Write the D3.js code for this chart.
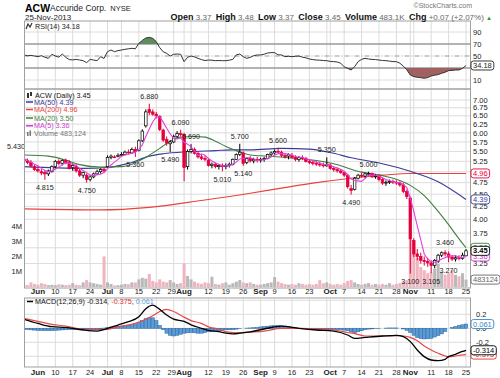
<!DOCTYPE html>
<html><head><meta charset="utf-8">
<script src="https://cdn.jsdelivr.net/npm/d3@7"></script>
<style>body{margin:0;background:#fff}svg{display:block}text{font-family:Arial,"Liberation Sans",sans-serif}</style>
</head><body><svg width="500" height="378"></svg>
<script>
// ---------- DATA ----------
const holidays = ["2013-07-04","2013-09-02"];
const open = [5.30,5.26,5.22,5.12,5.05,5.00,4.98,4.95,5.00,5.12, 5.25,5.20,5.27,5.22,5.10,5.12,5.02,4.92,4.92,4.82,
 4.88,4.95,5.00,5.05,5.12,5.35,5.36,5.37,5.40,5.42, 5.48,5.46,5.55,5.52,5.78,6.20,6.70,6.62,6.55,6.48,
 6.08,5.82,5.70,5.75,5.90,5.98,5.95,5.12,5.50,5.55, 5.45,5.36,5.32,5.28,5.15,5.18,5.12,5.15,5.12,5.15,
 5.18,5.30,5.42,5.46,5.22,5.32,5.26,5.30,5.28,5.30, 5.32,5.42,5.46,5.50,5.48,5.40,5.38,5.40,5.35,5.30,
 5.34,5.32,5.25,5.22,5.20,5.18,5.16,5.14,5.16,5.08, 5.05,5.02,4.98,4.92,4.62,4.60,4.85,4.92,4.90,4.95,
 4.96,4.88,4.90,4.82,4.74,4.76,4.78,4.76,4.74,4.70, 4.56,4.42,3.62,3.40,3.36,3.30,3.28,3.26,3.22,3.28,
 3.38,3.42,3.40,3.35,3.32,3.34,3.33,3.37];
const high = [5.43,5.32,5.28,5.18,5.12,5.06,5.04,5.05,5.15,5.28, 5.30,5.30,5.32,5.28,5.20,5.18,5.08,5.00,4.96,4.92,
 4.98,5.05,5.08,5.10,5.40,5.42,5.40,5.45,5.48,5.52, 5.55,5.60,5.62,5.82,6.10,6.70,6.88,6.70,6.62,6.52,
 6.12,5.90,5.80,5.95,6.05,6.09,6.00,5.55,5.69,5.60, 5.50,5.42,5.38,5.32,5.22,5.22,5.18,5.20,5.20,5.22,
 5.32,5.45,5.70,5.50,5.35,5.38,5.34,5.36,5.34,5.36, 5.44,5.50,5.55,5.60,5.52,5.46,5.45,5.46,5.40,5.38,
 5.40,5.36,5.30,5.28,5.25,5.24,5.22,5.35,5.20,5.12, 5.10,5.06,5.00,4.95,4.70,4.88,4.95,4.98,4.98,5.00,
 4.98,4.95,4.94,4.86,4.80,4.82,4.82,4.80,4.78,4.74, 4.60,4.45,3.66,3.48,3.42,3.36,3.34,3.30,3.32,3.40,
 3.44,3.46,3.44,3.38,3.38,3.38,3.42,3.48];
const low = [5.22,5.18,5.10,5.02,4.98,4.92,4.815,4.90,4.98,5.08, 5.15,5.15,5.18,5.05,5.02,4.98,4.88,4.85,4.75,4.78,
 4.85,4.92,4.96,4.98,5.10,5.30,5.33,5.35,5.38,5.40, 5.44,5.44,5.36,5.50,5.75,6.15,6.52,6.50,6.42,6.05,
 5.75,5.65,5.49,5.72,5.85,5.90,4.78,5.05,5.45,5.42, 5.32,5.28,5.25,5.12,5.08,5.08,5.05,5.01,5.06,5.10,
 5.15,5.28,5.38,5.14,5.18,5.22,5.20,5.22,5.22,5.24, 5.30,5.38,5.42,5.45,5.35,5.32,5.30,5.32,5.25,5.24,
 5.28,5.22,5.18,5.15,5.14,5.12,5.10,5.12,5.05,5.00, 4.98,4.95,4.88,4.62,4.49,4.58,4.82,4.86,4.85,4.90,
 4.86,4.84,4.78,4.70,4.68,4.72,4.72,4.70,4.66,4.52, 4.40,3.10,3.35,3.30,3.25,3.22,3.20,3.105,3.18,3.26,
 3.35,3.36,3.27,3.29,3.28,3.30,3.31,3.37];
const close = [5.26,5.22,5.14,5.05,5.02,4.97,4.95,5.02,5.12,5.25, 5.20,5.27,5.22,5.08,5.15,5.02,4.92,4.98,4.82,4.88,
 4.95,5.00,5.05,5.02,5.35,5.38,5.36,5.40,5.42,5.48, 5.46,5.55,5.50,5.78,6.05,6.62,6.60,6.55,6.50,6.10,
 5.80,5.72,5.75,5.90,5.98,5.95,5.10,5.50,5.55,5.45, 5.36,5.32,5.30,5.15,5.18,5.12,5.15,5.12,5.15,5.18,
 5.30,5.42,5.48,5.20,5.32,5.26,5.30,5.28,5.30,5.32, 5.42,5.46,5.50,5.48,5.40,5.36,5.42,5.35,5.30,5.34,
 5.32,5.25,5.22,5.20,5.18,5.16,5.14,5.18,5.08,5.05, 5.02,4.98,4.92,4.66,4.58,4.85,4.92,4.90,4.95,4.96,
 4.88,4.90,4.82,4.74,4.76,4.78,4.76,4.74,4.70,4.56, 4.45,3.65,3.40,3.36,3.30,3.28,3.26,3.22,3.30,3.38,
 3.42,3.40,3.35,3.32,3.34,3.33,3.38,3.45];
const volumeK = [150,120,300,200,150,250,200,120,150,120, 180,150,120,150,250,150,120,300,450,300,
 250,200,150,2000,300,200,100,120,150,200, 180,300,300,500,600,550,850,400,300,500,
 350,300,450,300,200,250,1550,720,500,350, 250,200,300,250,670,200,150,250,300,150,
 250,350,450,300,250,300,200,150,150,200, 250,300,650,350,250,200,150,200,150,250,
 200,150,200,150,200,450,250,300,200,150, 200,150,250,400,450,300,200,150,200,250,
 150,200,150,200,150,250,150,200,250,350, 450,3200,2400,1900,1300,1100,900,950,1200,1500,
 1000,800,900,1100,800,700,900,483.124];
const ma5 = [5.32,5.28,5.23,5.18,5.14,5.08,5.03,5.00,5.02,5.06, 5.11,5.17,5.21,5.20,5.18,5.15,5.08,5.03,4.98,4.92,
 4.91,4.93,4.94,4.98,5.07,5.16,5.23,5.30,5.38,5.41, 5.42,5.46,5.48,5.55,5.67,5.90,6.11,6.32,6.46,6.47,
 6.31,6.13,5.97,5.85,5.83,5.86,5.74,5.69,5.62,5.51, 5.39,5.44,5.40,5.32,5.26,5.21,5.18,5.14,5.14,5.14,
 5.18,5.23,5.31,5.32,5.34,5.34,5.31,5.27,5.29,5.29, 5.32,5.36,5.40,5.44,5.45,5.44,5.43,5.40,5.37,5.35,
 5.35,5.31,5.29,5.27,5.23,5.20,5.18,5.17,5.15,5.12, 5.09,5.06,5.01,4.93,4.83,4.80,4.79,4.78,4.84,4.92,
 4.92,4.92,4.90,4.86,4.82,4.80,4.77,4.76,4.75,4.71, 4.64,4.42,4.15,3.88,3.63,3.40,3.32,3.28,3.27,3.29,
 3.32,3.34,3.37,3.37,3.37,3.35,3.34,3.36];
const ma20Idx = [0,7,12,16,22,28,31,35,39,42,45,49,52,55,58,61,65,70,76,84,89,97,103,108,111,115,119,122,125,127];
const ma20Val = [5.41,5.38,5.28,5.17,5.11,5.12,5.18,5.35,5.58,5.77,5.88,5.90,5.88,5.77,5.63,5.52,5.41,5.38,5.34,5.27,5.19,4.99,4.91,4.80,4.69,4.47,4.15,3.90,3.65,3.50];
const ma50Idx = [0,17,24,30,36,40,47,55,60,65,74,82,88,94,103,111,119,127];
const ma50Val = [5.12,5.08,5.10,5.20,5.38,5.44,5.49,5.52,5.54,5.54,5.58,5.56,5.47,5.34,5.19,5.01,4.77,4.39];
const ma200Idx = [0,22,36,51,65,74,84,94,103,111,119,127];
const ma200Val = [4.20,4.18,4.23,4.37,4.52,4.63,4.75,4.85,4.92,4.96,4.96,4.96];
const rsi = [51.7,50.5,51,50,49,50.5,48,46.1,52.8,50, 48,53.3,47.8,44,43.5,44.4,43.3,42.2,38.9,44.4,
 43.3,42.2,48.9,46,57.2,60,57.2,59,60,61.1, 62,62.8,62,71.1,76,80,81.1,79.4,74,64,
 57,54.4,50,52.8,53.3,52.8,40.6,47.8,50,48.5, 46.1,44,42.5,43.3,43,42.2,42.5,42.2,42.2,43,
 44.4,52,53.3,48.9,46.1,47.8,50.5,51.7,51.7,53, 55,55.6,55.6,52,51.7,48.9,49.5,48.9,49.5,50,
 48,47,45,44,43.3,43,42.5,42.2,41,40.6, 40,38,32,29.4,26.7,32.2,40.6,44.4,46.1,45,
 44.4,44,43.3,42.5,42.2,41.5,40.6,40.6,38,33, 27,18.3,15.6,14.5,13.9,12.8,14,16.7,18,19,
 21.1,23,25.6,26,26.7,26.7,29.4,34.18];
const macdIdx = [0,4,8,12,17,21,24,27,30,33,35,37,39,41,43,46,48,51,53,56,58,60,62,65,69,74,79,84,89,93,95,98,103,107,109,111,113,115,117,119,121,122,124,126,127];
const macdVal = [0.129,0.07,0.023,0.012,-0.024,-0.039,0.0,0.047,0.094,0.166,0.28,0.33,0.27,0.19,0.13,0.1,0.05,0.0,-0.03,-0.048,-0.07,-0.081,-0.07,-0.05,-0.01,0.03,0.0,-0.024,-0.04,-0.096,-0.143,-0.13,-0.11,-0.10,-0.12,-0.19,-0.31,-0.405,-0.453,-0.462,-0.443,-0.405,-0.371,-0.33,-0.314];
const signalVal = [0.143,0.10,0.057,0.033,-0.015,-0.02,-0.015,0.023,0.047,0.09,0.13,0.18,0.24,0.27,0.24,0.16,0.11,0.07,0.02,-0.01,-0.048,-0.06,-0.065,-0.055,-0.04,0.0,0.0,-0.01,-0.024,-0.06,-0.075,-0.11,-0.11,-0.105,-0.11,-0.13,-0.177,-0.253,-0.31,-0.357,-0.396,-0.405,-0.396,-0.38,-0.375];
const hist = [-0.014,-0.018,-0.022,-0.026,-0.03,-0.032,-0.033,-0.034,-0.034,-0.03, -0.026,-0.023,-0.021,-0.018,-0.015,-0.012,-0.01,-0.009,-0.012,-0.015,
 -0.017,-0.019,-0.01,0.003,0.015,0.018,0.021,0.024,0.03,0.038, 0.047,0.055,0.065,0.08,0.11,0.14,0.15,0.15,0.11,0.04,
 -0.02,-0.07,-0.1,-0.11,-0.1,-0.085,-0.07,-0.065,-0.06,-0.065, -0.07,-0.07,-0.06,-0.05,-0.045,-0.04,-0.038,-0.032,-0.022,-0.021,
 -0.021,-0.012,-0.005,0.0,0.003,0.005,0.008,0.012,0.02,0.025, 0.03,0.035,0.038,0.038,0.035,0.03,0.025,0.015,0.006,0.0,
 -0.003,-0.006,-0.009,-0.012,-0.014,-0.014,-0.014,-0.012,-0.014,-0.016, -0.018,-0.02,-0.026,-0.036,-0.05,-0.068,-0.05,-0.035,-0.02,-0.012,
 -0.008,-0.004,-0.002,0.0,0.003,0.005,0.005,0.005,0.0,-0.01, -0.03,-0.06,-0.1,-0.133,-0.148,-0.152,-0.15,-0.143,-0.125,-0.105,
 -0.08,-0.047,0.0,0.012,0.025,0.038,0.05,0.061];
const tickDates = ["2013-06-03","2013-06-10","2013-06-17","2013-06-24","2013-07-01","2013-07-08","2013-07-15","2013-07-22","2013-07-29","2013-08-01","2013-08-12","2013-08-19","2013-08-26","2013-09-03","2013-09-09","2013-09-16","2013-09-23","2013-10-01","2013-10-07","2013-10-14","2013-10-21","2013-10-28","2013-11-01","2013-11-11","2013-11-18","2013-11-25"];
const tickText = ["Jun","10","17","24","Jul","8","15","22","29","Aug","12","19","26","Sep","9","16","23","Oct","7","14","21","28","Nov","11","18","25"];
const extraGrid = ["2013-08-05","2013-09-30","2013-11-04"];
const priceTicks = [7.00,6.75,6.50,6.25,6.00,5.75,5.50,5.25,5.00,4.75,4.50,4.25,4.00,3.75,3.50,3.25];
const volTicks = [1,2,3,4];
const rsiTicks = [90,70,50,30,10];
const macdTicks = [0.4,0.2,0.0,-0.2,-0.4];
const annIdx = [0,6,18,32,36,42,45,48,57,62,63,73,87,94,99,111,117,121,122];
const annVal = [5.43,4.815,4.75,5.36,6.88,5.49,6.09,5.69,5.01,5.70,5.14,5.60,5.35,4.49,5.00,3.10,3.105,3.46,3.27];
const annSide = ["h","l","l","l","h","l","h","h","l","h","l","h","h","l","h","l","l","h","l"];

// ---------- SETUP ----------
const fmt = d3.timeFormat("%Y-%m-%d");
const dates = d3.timeDay.range(new Date(2013,4,28), new Date(2013,10,26))
  .filter(d => d.getDay()>0 && d.getDay()<6 && !holidays.includes(fmt(d))).map(fmt);
const svg = d3.select("svg");
const L = 24.5, R = 470.5;
const x = d3.scalePoint().domain(dates).range([24, 466]);
const xi = i => x(dates[i]);
const P = {rsi:[21,89], price:[89,288], macd:[298,367]};
const yR = d3.scaleLinear().domain([0,100]).range([86,26]);
const yP = d3.scaleLog().domain([4,7]).range([219.3,100]);
const yV = d3.scaleLinear().domain([0,1]).range([287,271.7]);
const yM = d3.scaleLinear().domain([0,0.2]).range([328.3,314.3]);
const RED = "#e3003b", GRID = "#dcdcdc";
const defs = svg.append("defs");
Object.entries(P).forEach(([k,[t,b]]) => {
  defs.append("clipPath").attr("id","c"+k).append("rect").attr("x",L).attr("y",t).attr("width",R-L).attr("height",b-t);
});

// panels + vertical grid
Object.entries(P).forEach(([k,[t,b]]) => {
  svg.append("rect").attr("x",L).attr("y",t).attr("width",R-L).attr("height",b-t).attr("fill","#fff");
  tickDates.concat(extraGrid).forEach(d => {
    svg.append("line").attr("x1",x(d)).attr("x2",x(d)).attr("y1",t).attr("y2",b)
      .attr("stroke",GRID).attr("stroke-width",1);
  });
});

// ---------- RSI ----------
const gR = svg.append("g").attr("clip-path","url(#crsi)");
rsiTicks.forEach(v => {
  const ln = gR.append("line").attr("x1",L).attr("x2",R).attr("y1",yR(v)).attr("y2",yR(v));
  if (v===70||v===30) ln.attr("stroke","#9a9a9a").attr("stroke-width",1.6);
  else if (v===50) ln.attr("stroke","#9a9a9a").attr("stroke-dasharray","5,2,1,2");
  else ln.attr("stroke",GRID);
});
defs.append("clipPath").attr("id","above70").append("rect").attr("x",L).attr("y",0).attr("width",R-L).attr("height",yR(70));
defs.append("clipPath").attr("id","below30").append("rect").attr("x",L).attr("y",yR(30)).attr("width",R-L).attr("height",100);
gR.append("path").datum(rsi).attr("clip-path","url(#above70)").attr("fill","#5e8c5e")
  .attr("d", d3.area().x((d,i)=>xi(i)).y0(yR(70)).y1(d=>yR(d)));
gR.append("path").datum(rsi).attr("clip-path","url(#below30)").attr("fill","#a36060")
  .attr("d", d3.area().x((d,i)=>xi(i)).y0(yR(30)).y1(d=>yR(d)));
gR.append("path").datum(rsi).attr("fill","none").attr("stroke","#333").attr("stroke-width",1)
  .attr("d", d3.line().x((d,i)=>xi(i)).y(d=>yR(d)));

// ---------- PRICE ----------
const gP = svg.append("g").attr("clip-path","url(#cprice)");
priceTicks.forEach(v => gP.append("line").attr("x1",L).attr("x2",R).attr("y1",yP(v)).attr("y2",yP(v)).attr("stroke",GRID));
// volume
volumeK.forEach((v,i) => {
  const up = i===0 ? close[i]>=open[i] : close[i]>=close[i-1];
  gP.append("rect").attr("x",xi(i)-1.5).attr("width",3).attr("y",yV(v/1000)).attr("height",287-yV(v/1000))
    .attr("fill", up ? "#b9b9b9" : "#f1b3bf");
});
// MAs
const sparse = (idx,val) => idx.map((k,j)=>[xi(k), yP(val[j])]);
const lineC = d3.line().curve(d3.curveMonotoneX);
gP.append("path").attr("d",lineC(sparse(ma200Idx,ma200Val))).attr("fill","none").attr("stroke","#e8433c").attr("stroke-width",1.1);
gP.append("path").attr("d",lineC(sparse(ma50Idx,ma50Val))).attr("fill","none").attr("stroke","#3b3b9b").attr("stroke-width",1.1);
gP.append("path").attr("d",lineC(sparse(ma20Idx,ma20Val))).attr("fill","none").attr("stroke","#3f7f3f").attr("stroke-width",1.1);
// candles
close.forEach((c,i) => {
  const o = open[i], prev = i===0 ? o : close[i-1];
  const col = c >= prev ? "#000" : RED;
  const hollow = c > o;
  const cx = xi(i);
  gP.append("line").attr("x1",cx).attr("x2",cx).attr("y1",yP(high[i])).attr("y2",yP(low[i])).attr("stroke",col).attr("stroke-width",1);
  const y1 = yP(Math.max(o,c)), y2 = yP(Math.min(o,c));
  gP.append("rect").attr("x",cx-1.3).attr("width",2.6).attr("y",y1).attr("height",Math.max(0.8,y2-y1))
    .attr("fill", hollow ? "#fff" : col).attr("stroke",col).attr("stroke-width",0.7);
});
gP.append("path").attr("d", d3.line().x((d,i)=>xi(i)).y(d=>yP(d))(ma5)).attr("fill","none").attr("stroke","#e23ee2").attr("stroke-width",1.1);
// annotations
annIdx.forEach((k,j) => {
  const v = annVal[j];
  const yy = annSide[j]==="h" ? yP(v)-5 : yP(v)+10.5;
  const xx = k===0 ? xi(k)-8 : xi(k);
  svg.append("text").attr("x",xx).attr("y",yy).attr("text-anchor","middle").attr("font-size",7.2).attr("fill","#222")
    .text(v.toFixed(3));
});

// ---------- MACD ----------
const gM = svg.append("g").attr("clip-path","url(#cmacd)");
macdTicks.forEach(v => gM.append("line").attr("x1",L).attr("x2",R).attr("y1",yM(v)).attr("y2",yM(v)).attr("stroke",GRID));
hist.forEach((h,i) => {
  gM.append("rect").attr("x",xi(i)-1.74).attr("width",3.48).attr("y",Math.min(yM(h),yM(0))).attr("height",Math.abs(yM(h)-yM(0)))
    .attr("fill","#5b9ad2").attr("stroke","#2b67a3").attr("stroke-width",0.5);
});
gM.append("path").attr("d",lineC(macdIdx.map((k,j)=>[xi(k),yM(signalVal[j])]))).attr("fill","none").attr("stroke","#e84848").attr("stroke-width",1.2);
gM.append("path").attr("d",lineC(macdIdx.map((k,j)=>[xi(k),yM(macdVal[j])]))).attr("fill","none").attr("stroke","#000").attr("stroke-width",1.3);

// panel borders
Object.values(P).forEach(([t,b]) => svg.append("rect").attr("x",L).attr("y",t).attr("width",R-L).attr("height",b-t)
  .attr("fill","none").attr("stroke","#a0a0a0").attr("stroke-width",1));

// ---------- AXES ----------
const axText = (xx,yy,t,opt={}) => svg.append("text").attr("x",xx).attr("y",yy).attr("font-size",opt.fs||7.5)
  .attr("fill",opt.fill||"#222").attr("text-anchor",opt.anchor||"start").attr("font-weight",opt.bold?"bold":"normal").text(t);
rsiTicks.filter(v=>v!==30).forEach(v => axText(473, yR(v)+2.7, String(v)));
priceTicks.filter(v=>v!==5.00 && v!==3.50).forEach(v => axText(473, yP(v)+2.7, v.toFixed(2)));
volTicks.forEach(v => axText(22, yV(v)+2.7, v+"M", {anchor:"end"}));
[0.2,0.0,-0.2].forEach(v => axText(476, yM(v)+2.7, v.toFixed(1)));
[293.5, 374.5].forEach(yy => {
  tickDates.forEach((d,j) => {
    const bold = /[A-Za-z]/.test(tickText[j]);
    axText(x(d) + (tickText[j]==="29" ? -2 : 0), yy, tickText[j], {anchor:"middle", bold, fs: bold?8:7.5});
  });
});

// value boxes on right
function box(yc, t, col, bold){
  const g = svg.append("g");
  const tx = g.append("text").attr("x",473).attr("y",yc+2.6).attr("font-size",7.5).attr("fill",col)
    .attr("font-weight",bold?"bold":"normal").text(t);
  const w = tx.node().getComputedTextLength();
  g.insert("rect","text").attr("x",471).attr("y",yc-4.5).attr("width",w+4).attr("height",9).attr("rx",2.5)
    .attr("fill","#fff").attr("stroke",col).attr("stroke-width",0.9);
}
box(yR(34.18),"34.18","#222");
box(yP(4.96),"4.96",RED);
box(yP(4.39),"4.39","#3b3b9b");
box(yP(3.50),"3.50","#3f7f3f");
box(yP(3.36),"3.36","#d23bd2");
box(yP(3.45),"3.45","#000",true);
box(yV(0.483124),"483124","#666");
box(yM(0.061),"0.061","#3a86c8");
box(yM(-0.375),"-0.375","#e03030");
box(yM(-0.314),"-0.314","#000");

// ---------- HEADER & LEGENDS ----------
svg.append("text").attr("x",25).attr("y",11.5).attr("font-size",10.5).attr("font-weight","bold").text("ACW");
svg.append("text").attr("x",50).attr("y",11).attr("font-size",8.5).attr("fill","#222").text("Accuride Corp.")
  .append("tspan").attr("font-size",7.5).attr("dx",4).text("NYSE");
svg.append("text").attr("x",25).attr("y",20).attr("font-size",8).attr("fill","#222").text("25-Nov-2013");
svg.append("text").attr("x",472).attr("y",8).attr("font-size",7).attr("fill","#777").attr("text-anchor","end").text("©StockCharts.com");
const hdr = svg.append("text").attr("x",492).attr("y",19.5).attr("font-size",9).attr("text-anchor","end");
[["Open",true],[" 3.37  ",false],["High",true],[" 3.48  ",false],["Low",true],[" 3.37  ",false],["Close",true],[" 3.45  ",false],
 ["Volume",true],[" 483.1K  ",false],["Chg",true],[" +0.07 (+2.07%) ",false]].forEach(([t,b]) =>
  hdr.append("tspan").attr("font-weight",b?"bold":"normal").attr("fill",b?"#111":"#666").attr("font-size",b?9:8).attr("xml:space","preserve").text(t));
hdr.append("tspan").attr("fill","#2a9a2a").attr("font-size",6).text("▲");

const lg = (xx,yy,t,col) => svg.append("text").attr("x",xx).attr("y",yy).attr("font-size",7.2)
  .attr("font-family","'DejaVu Sans',Verdana,sans-serif").attr("fill",col).text(t);
// RSI legend
svg.append("path").attr("d","M26,29 L28,24 L30,27 L32,23").attr("fill","none").attr("stroke","#333").attr("stroke-width",1.2);
lg(35,29,"RSI(14) 34.18","#222");
// price legend
svg.append("rect").attr("x",27).attr("y",93).attr("width",2).attr("height",5).attr("fill","#333");
svg.append("rect").attr("x",30).attr("y",92).attr("width",2).attr("height",4).attr("fill","#333");
lg(35,97.5,"ACW (Daily) 3.45","#111");
[["MA(50) 4.39","#3b3b9b",104.5],["MA(200) 4.96","#e8433c",112],["MA(20) 3.50","#3f7f3f",120.5],["MA(5) 3.36","#d23bd2",128.3]].forEach(([t,c,yy]) => {
  svg.append("line").attr("x1",26).attr("x2",33).attr("y1",yy-2.5).attr("y2",yy-2.5).attr("stroke",c).attr("stroke-width",1.5);
  lg(34,yy,t,c);
});
svg.append("rect").attr("x",27).attr("y",132).attr("width",1.5).attr("height",4).attr("fill","#777");
svg.append("rect").attr("x",29.5).attr("y",130.5).attr("width",1.5).attr("height",5.5).attr("fill","#777");
lg(34,136.3,"Volume 483,124","#777");
// MACD legend
svg.append("line").attr("x1",27).attr("x2",33).attr("y1",301.5).attr("y2",301.5).attr("stroke","#000").attr("stroke-width",1.5);
const ml = lg(35,304,"MACD(12,26,9) -0.314","#111");
ml.append("tspan").attr("fill","#e03030").text(", -0.375");
ml.append("tspan").attr("fill","#111").text(",");
ml.append("tspan").attr("fill","#5aa0d8").text(" 0.061");
</script></body></html>
